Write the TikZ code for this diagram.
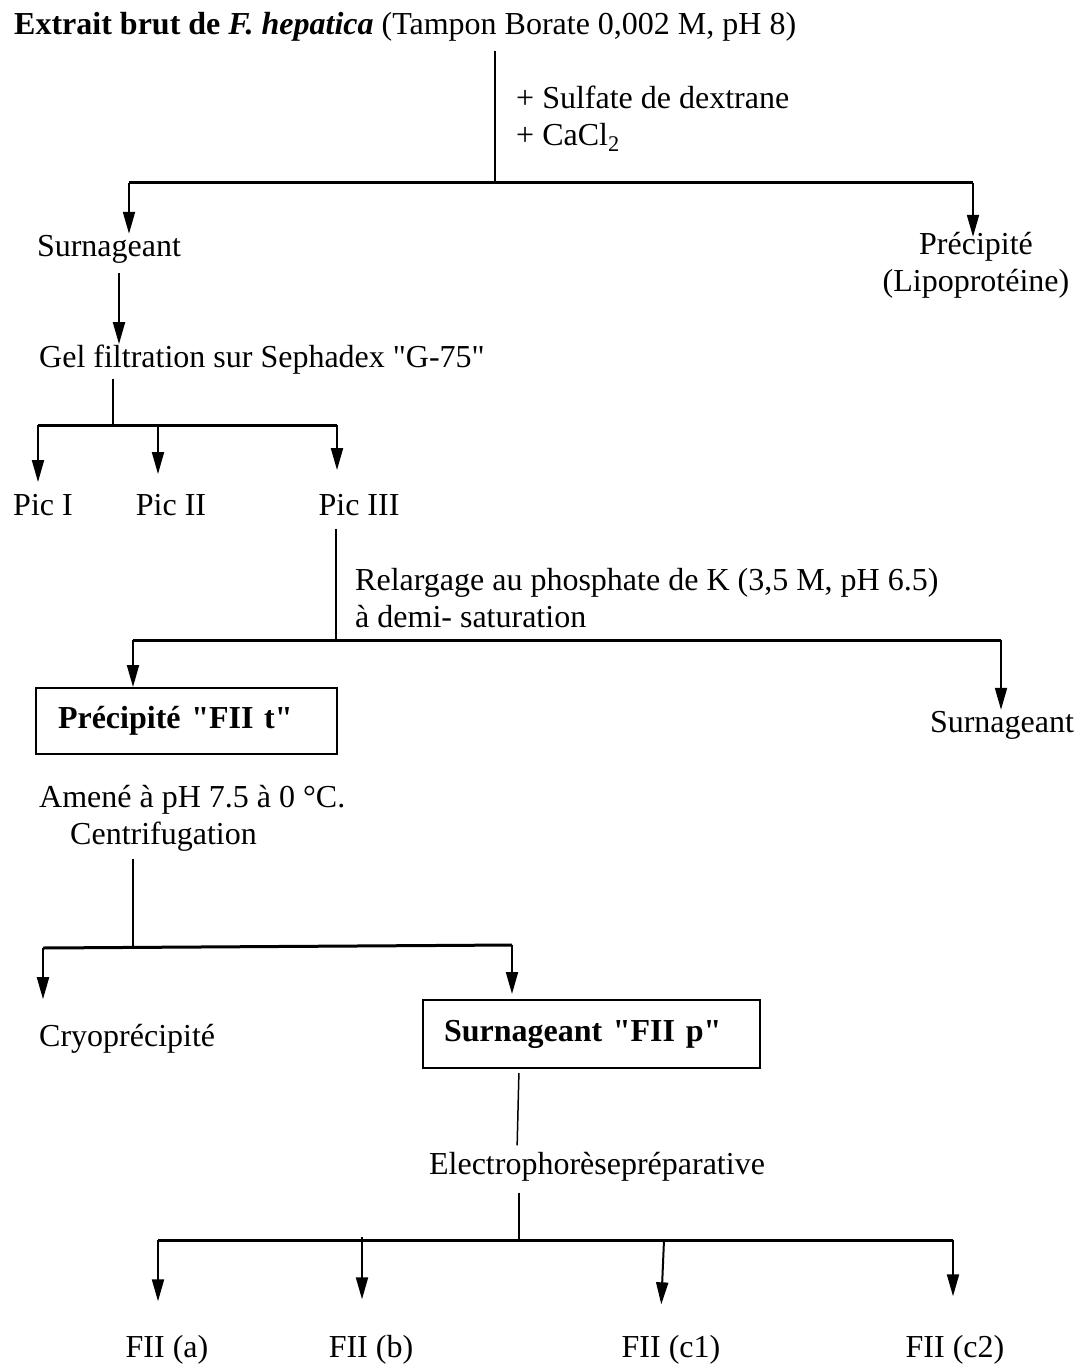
\documentclass[tikz,border=0pt]{standalone}
\usepackage{fontspec}
\setmainfont{Liberation Serif}
\usetikzlibrary{arrows.meta}

\begin{document}
\begin{tikzpicture}[x = 1pt, y = -1pt,
    every node/.style = { inner sep = 1pt, font = \fontsize{32}{37}\selectfont },
    box/.style = { draw, line width = 2pt, align = left, inner ysep = 0pt, font = \fontsize{32}{37}\selectfont\bfseries },
    line/.style = { line width = 1.5pt },
    bar/.style = { line width = 3pt },
    arr/.style = { line width = 2pt, -{Triangle[length = 22pt, width = 12pt]} }]
    \useasboundingbox (0,0) rectangle (1073,1364);

    \node [anchor = west] (title) at (13,27) {\textbf{Extrait brut de \textit{F. hepatica}} (Tampon Borate 0,002 M, pH 8)};
    \node [anchor = west, align = left] (ajout) at (515,119) {+ Sulfate de dextrane \\ + CaCl\textsubscript{2}};
    \node (surn1) at (109,249) {Surnageant};
    \node [align = center] (prec1) at (976,265) {Précipité \\ (Lipoprotéine)};
    \node [anchor = west] (gel) at (38,360) {Gel filtration sur Sephadex \textquotedbl G-75\textquotedbl};
    \node (pic1) at (43,505) {Pic I};
    \node (pic2) at (171,505) {Pic II};
    \node (pic3) at (359,505) {Pic III};
    \node [anchor = west, align = left] (relarg) at (354,598) {Relargage au phosphate de K (3,5 M, pH 6.5) \\ à demi- saturation};
    \node [box, text width = 257pt, inner xsep = 22pt, minimum height = 66pt] (fiit) at (186.5,721) {Précipité \textquotedbl FII t\textquotedbl};
    \node (surn2) at (1002,725) {Surnageant};
    \node [anchor = west] (amene) at (38,800) {Amené à pH 7.5 à 0 °C.};
    \node [anchor = west] (centri) at (69,837) {Centrifugation};
    \node [anchor = west] (cryo) at (38,1039) {Cryoprécipité};
    \node [box, text width = 295pt, inner xsep = 21pt, minimum height = 68pt] (fiip) at (591.5,1034) {Surnageant \textquotedbl FII p\textquotedbl};
    \node (elec) at (597,1167) {Electrophorèsepréparative};
    \node (fa) at (167,1350) {FII (a)};
    \node (fb) at (371,1350) {FII (b)};
    \node (fc1) at (671,1350) {FII (c1)};
    \node (fc2) at (955,1350) {FII (c2)};

    \coordinate (j1) at (495,183);
    \coordinate (b1l) at (129,183);
    \coordinate (b1r) at (973,183);
    \draw [line, shorten <= 8pt] (j1 |- title.south) -- (j1);
    \draw [bar] (b1l) -- (b1r);
    \draw [arr] (b1l) -- (b1l |- surn1.north);
    \draw [arr, shorten >= -6pt] (b1r) -- (b1r |- prec1.north);
    \draw [arr, shorten <= 9pt] (119,0 |- surn1.south) -- (119,0 |- gel.north);

    \coordinate (j2) at (113,425);
    \coordinate (b2l) at (38,425);
    \coordinate (b2r) at (337,425);
    \draw [line, shorten <= 3pt] (j2 |- gel.south) -- (j2);
    \draw [bar] (b2l) -- (b2r);
    \draw [arr, shorten >= 11pt] (b2l) -- (b2l |- pic1.north);
    \draw [arr, shorten >= 19pt] (158,425) -- (158,0 |- pic2.north);
    \draw [arr, shorten >= 23pt] (b2r) -- (b2r |- pic3.north);

    \coordinate (j3) at (336,640);
    \coordinate (b3l) at (133,640);
    \coordinate (b3r) at (1001,640);
    \draw [line, shorten <= 12pt] (j3 |- pic3.south) -- (j3);
    \draw [bar] (b3l) -- (b3r);
    \draw [arr] (b3l) -- (b3l |- fiit.north);
    \draw [arr] (b3r) -- (b3r |- surn2.north);

    \coordinate (j4) at (133,947);
    \coordinate (b4l) at (43,948);
    \coordinate (b4r) at (512,945);
    \draw [line, shorten <= 6pt] (j4 |- centri.south) -- (j4);
    \draw [bar] (b4l) -- (b4r);
    \draw [arr, shorten >= 24pt] (b4l) -- (b4l |- cryo.north);
    \draw [arr, shorten >= 5pt] (b4r) -- (b4r |- fiip.north);

    \draw [line, shorten <= 4pt, shorten >= 6pt] (519,0 |- fiip.south) -- (517,0 |- elec.north);

    \coordinate (j5) at (519,1240);
    \coordinate (b5l) at (158,1240);
    \coordinate (b5r) at (953,1240);
    \draw [line, shorten <= 10pt] (j5 |- elec.south) -- (j5);
    \draw [bar] (b5l) -- (b5r);
    \draw [arr, shorten >= 33pt] (b5l) -- (b5l |- fa.north);
    \draw [arr, shorten >= 35pt] (362,1237) -- (362,0 |- fb.north);
    \draw [arr, shorten >= 30pt] (664,1240) -- (660,0 |- fc1.north);
    \draw [arr, shorten >= 38pt] (b5r) -- (b5r |- fc2.north);

\end{tikzpicture}
\end{document}
